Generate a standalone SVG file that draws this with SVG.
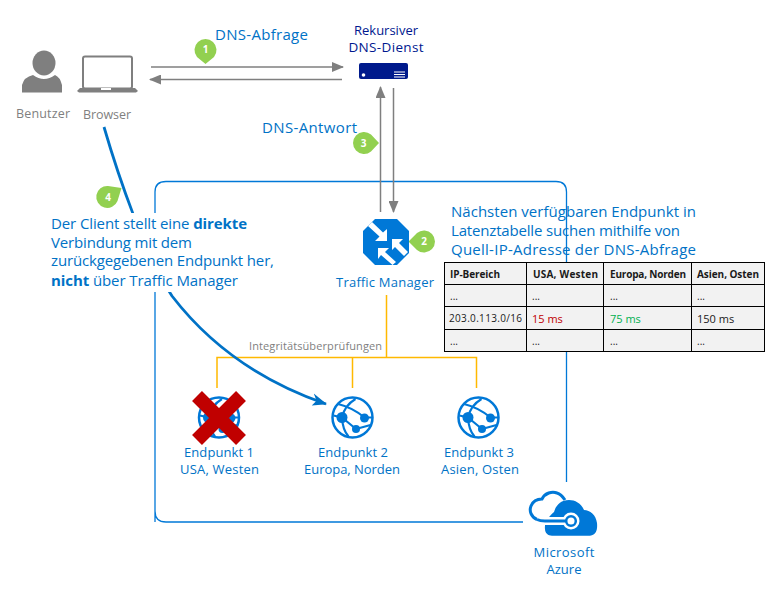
<svg xmlns="http://www.w3.org/2000/svg" width="780" height="600" viewBox="0 0 780 600">
<style>
text{font-family:"Open Sans","Noto Sans","Liberation Sans",sans-serif}
.g{fill:#7f7f7f}
.lb{fill:#0072c6;font-size:13px;text-anchor:middle}
.big{fill:#0072c6;font-size:15px}
.t{font-size:10px;fill:#1a1a1a}
.th{font-size:10px;font-weight:700;fill:#1a1a1a}
.gl{fill:none;stroke:#7f7f7f;stroke-width:1.5}
.y{fill:none;stroke:#ffb900;stroke-width:1.5}
.cell{fill:#f2f2f2;stroke:#000;stroke-width:1}
.bn{fill:#fff;font-size:10px;font-weight:700;text-anchor:middle}
.bp{fill:#92d050}
.globe{fill:none;stroke:#0078d7;stroke-width:2.500}
.gf{fill:#0078d7}
</style>
<defs>
<marker id="ga" markerWidth="12" markerHeight="10" refX="11" refY="5" orient="auto" markerUnits="userSpaceOnUse"><path d="M0 0L12 5L0 10Z" fill="#7f7f7f"/></marker>
<marker id="ba" markerWidth="16" markerHeight="14" refX="15" refY="7" orient="auto" markerUnits="userSpaceOnUse"><path d="M0 1L16 7L2 13L5 7Z" fill="#0072c6"/></marker>
<g id="gl">
<circle r="20" class="globe"/>
<path d="M-14.500-13.500Q0-10 12 0M3-18.500Q-8-12-10.500 0M-10.500 0L3.500 11.500M3.500 11.500L18 7.500M-10.500 0Q-10 12-4 19M12 0L20 0M-10.500 0L-19-2" fill="none" stroke="#0078d7" stroke-width="2.200"/>
<circle cx="-10.500" cy="0" r="5.500" class="gf"/><circle cx="12" cy="0.500" r="4.500" class="gf"/><circle cx="3.500" cy="11.500" r="4" class="gf"/>
</g>
</defs>
<g id="frame"><path d="M155 522V192Q155 181.500 166 181.500H556Q566.500 181.500 566.500 192V482M523 522H166Q155 522 155 511" fill="none" stroke="#0078d7" stroke-width="1.300"/></g>
<g id="connectors">
<path class="gl" d="M151 67H343" marker-end="url(#ga)"/>
<path class="gl" d="M342 79.500H150" marker-end="url(#ga)"/>
<path class="gl" d="M380.500 212V87" marker-end="url(#ga)"/>
<path class="gl" d="M393.500 88V212" marker-end="url(#ga)"/>
<path class="y" d="M386.500 295V357.500M217 388V357.500H476.500V388M352.500 357.500V388"/>
<path d="M104 127C118 175 145 255 172 296C212 348 265 383 326 404" fill="none" stroke="#0072c6" stroke-width="2.800" marker-end="url(#ba)"/>
</g>
<g id="benutzer">
<ellipse class="g" cx="44" cy="63" rx="11.500" ry="12.500"/>
<path class="g" d="M22 92.500V85Q24 77 33 75Q44 83 55 75Q60 77 62 85V92.500Z"/>
<text x="43" y="118" font-size="12.500" class="g" text-anchor="middle" textLength="54">Benutzer</text>
</g>
<g id="browser">
<rect x="83" y="56.500" width="49" height="32" rx="2" fill="none" stroke="#7f7f7f" stroke-width="2"/>
<path class="g" d="M80 88H135L138 91L136 92.500H79L77 91Z"/>
<rect x="101" y="88" width="10" height="2" fill="#fff"/>
<text x="107" y="119" font-size="12.500" class="g" text-anchor="middle" textLength="48">Browser</text>
</g>
<g id="dns">
<text x="386" y="35" font-size="13" fill="#00188f" text-anchor="middle" textLength="64">Rekursiver</text>
<text x="386" y="52" font-size="13.500" fill="#00188f" text-anchor="middle" textLength="75">DNS-Dienst</text>
<rect x="359" y="63" width="49" height="16" rx="2" fill="#001a8c"/>
<circle cx="363.500" cy="75" r="1.800" fill="#fff"/>
<path d="M394 72H405M394 74.500H405M394 77H405" stroke="#fff" stroke-width="1"/>
</g>
<text class="big" x="215" y="40" textLength="93">DNS-Abfrage</text>
<text class="big" x="262" y="133" textLength="95">DNS-Antwort</text>
<g id="badge1"><path class="bp" d="M205.500 64L197 57A11 11 0 1 1 214 57Z"/><text class="bn" x="205.500" y="53">1</text></g>
<g id="badge3"><path class="bp" d="M379 143L371 151.500A11 11 0 1 1 371 134.500Z"/><text class="bn" x="363.500" y="147">3</text></g>
<g id="badge2"><path class="bp" d="M408.500 241.500L417 233A11 11 0 1 1 417 250Z"/><text class="bn" x="424" y="245">2</text></g>
<g id="traffic">
<path class="gf" d="M375 219H397L409 231V253L397 265H375L363 253V231Z"/>
<path fill="#fff" d="M387 229V241H375L379.500 236.500L368 226L372 222L383 232.500Z"/>
<path fill="#fff" d="M392 239H403L399 243L408 252L404 256L395 247L392 250Z"/>
<path fill="#fff" d="M378 248H389L385 252L396 262L392.500 265L381 255L378 259Z"/>
<text x="385" y="287" class="lb" textLength="98">Traffic Manager</text>
</g>
<g id="note">
<rect x="45" y="213" width="235" height="79" fill="#fff"/>
<text class="big" x="51" y="229" textLength="196">Der Client stellt eine <tspan font-weight="700">direkte</tspan></text>
<text class="big" x="51" y="247.500" textLength="141">Verbindung mit dem</text>
<text class="big" x="51" y="266" textLength="223">zurückgegebenen Endpunkt her,</text>
<text class="big" x="51" y="286" textLength="187"><tspan font-weight="700">nicht</tspan> über Traffic Manager</text>
</g>
<g id="badge4"><path class="bp" d="M121.500 188L117.500 201A11 11 0 1 1 108 186Z"/><text class="bn" x="108" y="201">4</text></g>
<g id="heading">
<text class="big" x="451" y="217" textLength="245">Nächsten verfügbaren Endpunkt in</text>
<text class="big" x="451" y="236" textLength="229">Latenztabelle suchen mithilfe von</text>
<text class="big" x="451" y="254.500" textLength="245">Quell-IP-Adresse der DNS-Abfrage</text>
</g>
<g id="table">
<rect class="cell" x="444.500" y="262.500" width="82" height="22"/><rect class="cell" x="526.500" y="262.500" width="77" height="22"/><rect class="cell" x="603.500" y="262.500" width="88" height="22"/><rect class="cell" x="691.500" y="262.500" width="73" height="22"/>
<rect class="cell" x="444.500" y="284.500" width="82" height="22"/><rect class="cell" x="526.500" y="284.500" width="77" height="22"/><rect class="cell" x="603.500" y="284.500" width="88" height="22"/><rect class="cell" x="691.500" y="284.500" width="73" height="22"/>
<rect class="cell" x="444.500" y="306.500" width="82" height="23"/><rect class="cell" x="526.500" y="306.500" width="77" height="23"/><rect class="cell" x="603.500" y="306.500" width="88" height="23"/><rect class="cell" x="691.500" y="306.500" width="73" height="23"/>
<rect class="cell" x="444.500" y="329.500" width="82" height="22"/><rect class="cell" x="526.500" y="329.500" width="77" height="22"/><rect class="cell" x="603.500" y="329.500" width="88" height="22"/><rect class="cell" x="691.500" y="329.500" width="73" height="22"/>
<text class="th" x="450" y="278" textLength="50">IP-Bereich</text><text class="th" x="533" y="278" textLength="65">USA, Westen</text><text class="th" x="610" y="278" textLength="76">Europa, Norden</text><text class="th" x="697" y="278" textLength="62">Asien, Osten</text>
<text class="t" x="450" y="300">...</text><text class="t" x="532" y="300">...</text><text class="t" x="610" y="300">...</text><text class="t" x="697" y="300">...</text>
<text class="t" x="449" y="322" textLength="73">203.0.113.0/16</text><text x="532" y="323" font-size="11" fill="#c00000">15 ms</text><text x="610" y="323" font-size="11" fill="#00b050">75 ms</text><text x="697" y="323" font-size="11" fill="#1a1a1a">150 ms</text>
<text class="t" x="450" y="345">...</text><text class="t" x="532" y="345">...</text><text class="t" x="610" y="345">...</text><text class="t" x="697" y="345">...</text>
</g>
<text x="315.500" y="350" font-size="11" fill="#7f7f7f" text-anchor="middle" textLength="133">Integritätsüberprüfungen</text>
<g id="ep1"><use href="#gl" x="219" y="417.500"/><path d="M197 396L241 440M241 396L197 440" stroke="#c00000" stroke-width="14" fill="none"/>
<text class="lb" x="219" y="457" textLength="70">Endpunkt 1</text><text class="lb" x="219.500" y="474" textLength="79">USA, Westen</text></g>
<g id="ep2"><use href="#gl" x="352.500" y="417.500"/>
<text class="lb" x="353" y="457" textLength="70">Endpunkt 2</text><text class="lb" x="352" y="474" textLength="96">Europa, Norden</text></g>
<g id="ep3"><use href="#gl" x="478.500" y="417.500"/>
<text class="lb" x="479" y="457" textLength="70">Endpunkt 3</text><text class="lb" x="480" y="474" textLength="78">Asien, Osten</text></g>
<g id="azure">
<path fill="none" stroke="#0078d7" stroke-width="3" d="M537 519.500C531 517 529 511 531 506C533 501 538 499 542 499C545 493 552 491 557 493C561 494 563 497 565 500"/>
<path class="gf" d="M552 535.700H590C597 535 597.500 528 597 523C596 515 590 510 584 510C581 503 575 500 569 500C561 500 556 505 554 512C549 516 544 523 545 529C545 533 548 535.700 552 535.700Z"/>
<path d="M544 521H566" stroke="#fff" stroke-width="8"/>
<circle cx="571" cy="521" r="8.500" fill="#fff"/>
<path d="M537 519.500Q540 521 545 521H566" fill="none" stroke="#0078d7" stroke-width="3"/>
<circle cx="571" cy="521" r="4.800" fill="#fff" stroke="#0078d7" stroke-width="2.500"/>
<text class="lb" x="564" y="557" textLength="61">Microsoft</text><text class="lb" x="564" y="574">Azure</text>
</g>
</svg>
